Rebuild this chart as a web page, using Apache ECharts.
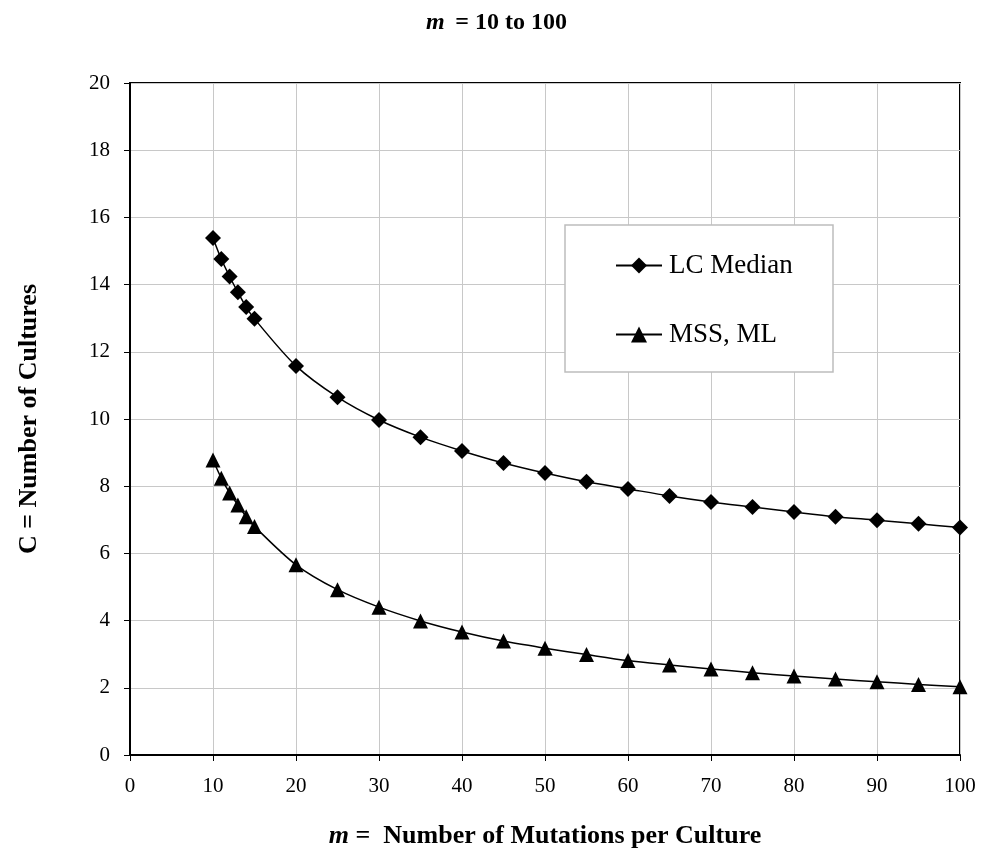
<!DOCTYPE html>
<html>
<head>
<meta charset="utf-8">
<script src="https://cdn.jsdelivr.net/npm/echarts@6/dist/echarts.min.js"></script>
<style>
html, body { margin: 0; padding: 0; background: #fff; }
#chart { width: 993px; height: 853px; }
</style>
</head>
<body>
<div id="chart"></div>
<script>
// m values and the two curves
var mValues = [10, 11, 12, 13, 14, 15, 20, 25, 30, 35, 40, 45, 50, 55, 60, 65, 70, 75, 80, 85, 90, 95, 100];
var lcMedian = [15.39, 14.76, 14.24, 13.77, 13.33, 12.98, 11.58, 10.65, 9.97, 9.46, 9.05, 8.69, 8.39, 8.13, 7.92, 7.71, 7.53, 7.38, 7.23, 7.09, 6.99, 6.88, 6.77];
var mssMl = [8.78, 8.24, 7.80, 7.44, 7.09, 6.80, 5.66, 4.92, 4.40, 3.99, 3.66, 3.39, 3.18, 2.99, 2.81, 2.68, 2.56, 2.45, 2.35, 2.26, 2.18, 2.10, 2.03];

function pairs(xs, ys) {
    var out = [];
    for (var i = 0; i < xs.length; i++) out.push([xs[i], ys[i]]);
    return out;
}

var font = 'Liberation Serif, Times New Roman, serif';

var dom = document.getElementById('chart');
var myChart = echarts.init(dom);
var option = {
    backgroundColor: '#fff',
    animation: false,
    textStyle: { fontFamily: font, color: '#000' },
    title: {
        text: '{i|m} {b| = 10 to 100}',
        left: 'center',
        top: 6,
        textStyle: {
            rich: {
                i: { fontFamily: font, fontSize: 24, fontWeight: 'bold', fontStyle: 'italic', color: '#000' },
                b: { fontFamily: font, fontSize: 24, fontWeight: 'bold', color: '#000' }
            }
        }
    },
    grid: {
        left: 130, right: 33, top: 83, bottom: 98,
        outerBoundsMode: 'none',
        show: true, borderColor: '#000', borderWidth: 2, backgroundColor: 'transparent'
    },
    graphic: [{
        type: 'rect',
        shape: { x: 565, y: 225, width: 268, height: 147 },
        style: { fill: '#fff', stroke: '#bdbdbd', lineWidth: 1.5 },
        z: 10
    }],
    legend: {
        orient: 'vertical',
        left: 610,
        top: 247,
        itemGap: 42,
        itemWidth: 46,
        itemHeight: 20,
        z: 20,
        textStyle: { fontFamily: font, fontSize: 27, color: '#000', padding: [0, 0, 0, 2] },
        data: ['LC Median', 'MSS, ML']
    },
    xAxis: {
        type: 'value',
        min: 0, max: 100, interval: 10,
        name: '{i|m}{b| =  Number of Mutations per Culture}',
        nameLocation: 'middle',
        nameGap: 68,
        nameTextStyle: {
            rich: {
                i: { fontFamily: font, fontSize: 26, fontWeight: 'bold', fontStyle: 'italic', color: '#000' },
                b: { fontFamily: font, fontSize: 26, fontWeight: 'bold', color: '#000' }
            }
        },
        axisLine: { show: true, lineStyle: { color: '#000', width: 2 } },
        axisTick: { show: true, length: 6, lineStyle: { color: '#000' } },
        axisLabel: { fontFamily: font, fontSize: 21, color: '#000', margin: 21 },
        splitLine: { show: true, lineStyle: { color: '#c8c8c8', width: 1 } }
    },
    yAxis: {
        type: 'value',
        min: 0, max: 20, interval: 2,
        name: 'C = Number of Cultures',
        nameLocation: 'middle',
        nameGap: 88,
        nameTextStyle: { fontFamily: font, fontSize: 26, fontWeight: 'bold', color: '#000' },
        axisLine: { show: true, lineStyle: { color: '#000', width: 2 } },
        axisTick: { show: true, length: 6, lineStyle: { color: '#000' } },
        axisLabel: { fontFamily: font, fontSize: 21, color: '#000', margin: 20 },
        splitLine: { show: true, lineStyle: { color: '#c8c8c8', width: 1 } }
    },
    series: [
        {
            name: 'LC Median',
            type: 'line',
            data: pairs(mValues, lcMedian),
            smooth: 0.3,
            symbol: 'diamond',
            symbolSize: 16,
            itemStyle: { color: '#000' },
            lineStyle: { color: '#000', width: 1.5 },
            z: 5
        },
        {
            name: 'MSS, ML',
            type: 'line',
            data: pairs(mValues, mssMl),
            smooth: 0.3,
            symbol: 'triangle',
            symbolSize: 15,
            itemStyle: { color: '#000' },
            lineStyle: { color: '#000', width: 1.5 },
            z: 5
        }
    ]
};

myChart.setOption(option);
</script>
</body>
</html>
